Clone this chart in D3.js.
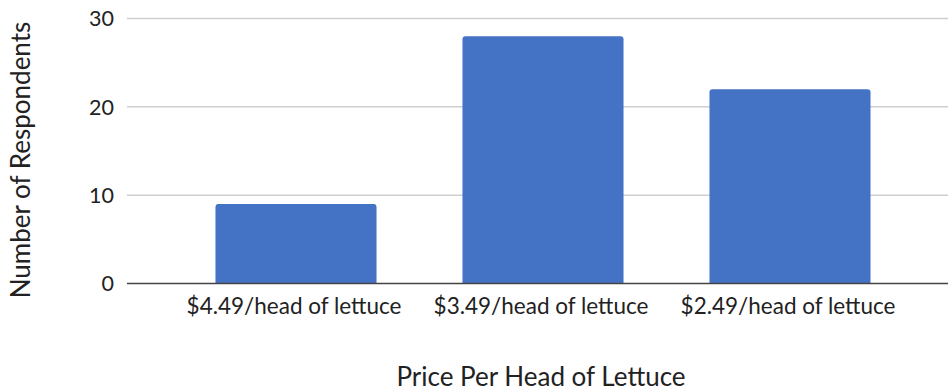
<!DOCTYPE html>
<html><head><meta charset="utf-8">
<script src="https://cdn.jsdelivr.net/npm/d3@7"></script>
<style>body{margin:0;background:#fff}svg{display:block}text{font-family:Lato,"Open Sans",sans-serif;fill:#222}</style>
</head><body>
<svg id="c" width="948" height="391"></svg>
<script>
const categories = ["$4.49/head of lettuce", "$3.49/head of lettuce", "$2.49/head of lettuce"];
const values = [9, 28, 22];
const yTicks = [0, 10, 20, 30];
const xTitle = "Price Per Head of Lettuce";
const yTitle = "Number of Respondents";

const svg = d3.select("#c");
const gridLeft = 127, gridRight = 948;
const x = d3.scaleBand().domain(categories).range([172.5, 913.5]).paddingInner(0.348).paddingOuter(0.174);
const y = d3.scaleLinear().domain([0, 30]).range([283.5, 18.5]);

// gridlines
svg.append("g").selectAll("line").data(yTicks.filter(d => d !== 0)).join("line")
  .attr("x1", gridLeft).attr("x2", gridRight)
  .attr("y1", d => y(d)).attr("y2", d => y(d))
  .attr("stroke", "#cfcfcf").attr("stroke-width", 1.5);

// bars with rounded top corners
const r = 3;
svg.append("g").selectAll("path").data(values).join("path")
  .attr("fill", "#4472C4")
  .attr("d", (d, i) => {
    const x0 = x(categories[i]), w = x.bandwidth(), y0 = y(d), yb = y(0);
    return `M${x0},${yb}V${y0 + r}Q${x0},${y0} ${x0 + r},${y0}H${x0 + w - r}Q${x0 + w},${y0} ${x0 + w},${y0 + r}V${yb}Z`;
  });

// baseline
svg.append("line").attr("x1", gridLeft).attr("x2", gridRight)
  .attr("y1", y(0)).attr("y2", y(0)).attr("stroke", "#444").attr("stroke-width", 1.5);

// y tick labels
svg.append("g").selectAll("text").data(yTicks).join("text")
  .attr("x", 114).attr("y", d => y(d)).attr("dy", "0.36em")
  .attr("text-anchor", "end").attr("font-size", 21.5).text(d => d);

// x tick labels
svg.append("g").selectAll("text").data(categories).join("text")
  .attr("x", d => x(d) + x.bandwidth() / 2 - 2).attr("y", 314)
  .attr("text-anchor", "middle").attr("font-size", 22.5).text(d => d);

// titles
svg.append("text").attr("x", 541).attr("y", 386).attr("text-anchor", "middle")
  .attr("font-size", 26).text(xTitle);
svg.append("text").attr("transform", "translate(30,160) rotate(-90)")
  .attr("text-anchor", "middle").attr("font-size", 26).text(yTitle);
</script>
</body></html>
